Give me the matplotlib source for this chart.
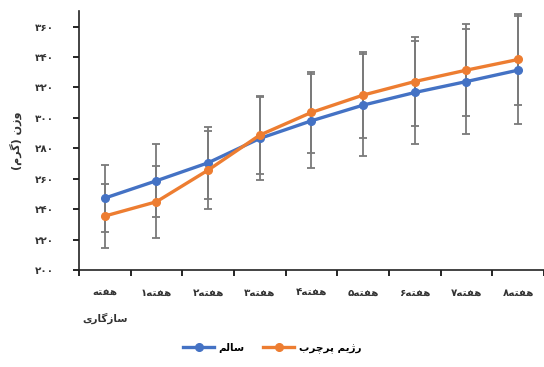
import numpy as np
import matplotlib
matplotlib.use("Agg")
import matplotlib.pyplot as plt
from matplotlib.lines import Line2D

plt.rcParams['font.family'] = ['DejaVu Sans']

# Persian strings written in visual (left-to-right, shaped) order
HAFTE = "\uFEEA\uFE98\uFED4\uFEEB"
SAZGARI = "\uFBFC\uFEAD\uFE8E\uFB94\uFEAF\uFE8E\uFEB3"
fa_digits = "۰۱۲۳۴۵۶۷۸۹"

weeks = [HAFTE + "\n" + SAZGARI] + [fa_digits[i] + HAFTE for i in range(1, 9)]

healthy = [247.3, 258.7, 270.5, 286.5, 298.1, 308.4, 316.7, 323.9, 331.4]
healthy_err = [22, 24, 23.5, 27.5, 31, 33.5, 34, 34.7, 35.5]
hfd = [235.5, 244.9, 265.7, 288.7, 303.6, 315, 323.9, 331.4, 338.4]
hfd_err = [21, 23.5, 25.5, 25.7, 26.5, 28.3, 29, 30, 30]

yticks = [200, 220, 240, 260, 280, 300, 320, 340, 360]
ylabels = ["".join(fa_digits[int(c)] for c in str(v)) for v in yticks]

label_healthy = "\uFEE2\uFEDF\uFE8E\uFEB3"
label_hfd = "\uFE8F\uFEAE\uFB7C\uFEAE\uFB58 \uFEE2\uFBFE\uFB8A\uFEAD"
ylab = "(\uFEE1\uFEAE\uFB94) \uFEE5\uFEAF\uFEED"

blue = '#4472C4'
orange = '#ED7D31'

fig = plt.figure(figsize=(5.44, 3.67), dpi=100)
ax = fig.add_axes([0.145, 0.264, 0.855, 0.705])

x = np.arange(len(weeks))
for vals, errs, col in [(healthy, healthy_err, blue), (hfd, hfd_err, orange)]:
    ax.errorbar(x, vals, yerr=errs, color=col, lw=2.4, marker='o', ms=5.5,
                ecolor='#7a7a7a', elinewidth=1.3, capsize=2.8, capthick=1.3, zorder=3)

ax.set_xlim(-0.5, 8.5)
ax.set_ylim(200, 370)
ax.set_yticks(yticks)
ax.set_yticklabels(ylabels, fontsize=7.5, fontweight='bold', color='#333333')
ax.set_xticks(x)
ax.set_xticklabels(weeks, fontsize=7.5, fontweight='bold', color='#333333')
ax.get_xticklabels()[0].set_linespacing(2.6)
ax.set_xticks(np.arange(-0.5, 8.6, 1), minor=True)
ax.tick_params(axis='x', which='major', length=0, pad=13)
ax.tick_params(axis='x', which='minor', length=4, width=1.2, direction='out')
ax.tick_params(axis='y', length=4, width=1.2, direction='out', pad=14)

for s in ['top', 'right']:
    ax.spines[s].set_visible(False)
for s in ['left', 'bottom']:
    ax.spines[s].set_linewidth(1.2)
    ax.spines[s].set_color('#222222')

ax.set_ylabel(ylab, fontsize=8, fontweight='bold', color='#333333', labelpad=9)

handles = [Line2D([], [], color=blue, lw=2.4, marker='o', ms=5.5),
           Line2D([], [], color=orange, lw=2.4, marker='o', ms=5.5)]
fig.legend(handles, [label_healthy, label_hfd], loc='lower center', bbox_to_anchor=(0.5, 0.01),
           ncol=2, frameon=False, prop={'size': 7.5, 'weight': 'bold'},
           handlelength=3.0, columnspacing=1.8, handletextpad=0.4)

fig.savefig("out.png", dpi=100)
